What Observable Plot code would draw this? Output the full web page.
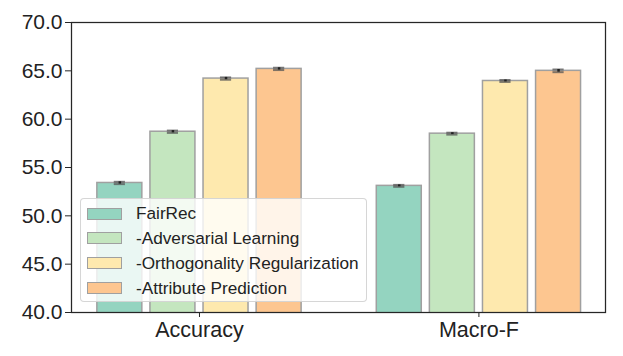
<!DOCTYPE html>
<html>
<head>
<meta charset="utf-8">
<script src="https://cdn.jsdelivr.net/npm/d3@7"></script>
<script src="https://cdn.jsdelivr.net/npm/@observablehq/plot@0.6"></script>
<style>
  html, body { margin: 0; padding: 0; background: #fff; }
  #wrap { position: relative; width: 623px; height: 356px; font-family: "Liberation Sans", Arial, sans-serif; }
  #legend {
    position: absolute; left: 80px; top: 198px; width: 287px; height: 104px;
    background: rgba(255,255,255,0.8); border: 1px solid rgba(204,204,204,0.8);
    border-radius: 4px; box-sizing: border-box;
  }
  .item { position: absolute; left: 6px; height: 24px; display: flex; align-items: center; }
  .sw { width: 35px; height: 12px; border: 1.5px solid #a0a0a0; box-sizing: border-box; }
  .lab { margin-left: 14px; font-size: 17.2px; color: #222; white-space: nowrap; }
</style>
</head>
<body>
<div id="wrap"></div>
<script>
const metrics = ["Accuracy", "Macro-F"];
const models = ["FairRec", "-Adversarial Learning", "-Orthogonality Regularization", "-Attribute Prediction"];
const accuracy = [53.4, 58.7, 64.2, 65.2];
const macroF = [53.1, 58.5, 63.95, 65.0];
const accuracyErr = [0.12, 0.12, 0.12, 0.12];
const macroFErr = [0.1, 0.1, 0.1, 0.14];
const yTicks = [40, 45, 50, 55, 60, 65, 70];
const colors = ["#94d4c0", "#c4e6bf", "#fee9ae", "#fdc690"];

const series = [accuracy, macroF];
const errs = [accuracyErr, macroFErr];
const step = 0.19, half = 0.0805;
const data = [];
metrics.forEach((m, i) => models.forEach((k, j) => {
  const c = i + (j - 1.5) * step;
  data.push({metric: m, model: k, c, value: series[i][j], err: errs[i][j], color: colors[j]});
}));

const chart = Plot.plot({
  width: 623, height: 356,
  marginLeft: 71, marginRight: 18, marginTop: 22, marginBottom: 44,
  style: {fontFamily: "'Liberation Sans', Arial, sans-serif", color: "#222", background: "#fff"},
  x: {domain: [-0.458, 1.453], axis: null},
  y: {domain: [40, 70], axis: null},
  marks: [
    Plot.rect(data, {x1: d => d.c - half, x2: d => d.c + half, y1: 0, y2: "value",
      fill: "color", stroke: "#a0a0a0", strokeWidth: 1.5, clip: true}),
    Plot.ruleY(data, {y: d => d.value - d.err, x1: d => d.c - 0.02, x2: d => d.c + 0.02, stroke: "#555", strokeOpacity: 0.75, strokeWidth: 2}),
    Plot.ruleY(data, {y: d => d.value + d.err, x1: d => d.c - 0.02, x2: d => d.c + 0.02, stroke: "#555", strokeOpacity: 0.75, strokeWidth: 2}),
    Plot.ruleX(data, {x: "c", y1: d => d.value - d.err, y2: d => d.value + d.err, stroke: "#222", strokeWidth: 2.5}),
    Plot.frame({stroke: "#262626", strokeWidth: 1.25}),
    Plot.axisY({ticks: yTicks, tickFormat: d => d.toFixed(1), tickSize: 6, tickPadding: 3, fontSize: 21, label: null, stroke: "#262626"}),
    Plot.axisX({ticks: [0, 1], tickFormat: i => metrics[i], tickSize: 5, tickPadding: 4, fontSize: 21.5, label: null, stroke: "#262626"})
  ]
});
const wrap = document.getElementById("wrap");
wrap.appendChild(chart);

const legend = document.createElement("div");
legend.id = "legend";
models.forEach((k, j) => {
  const it = document.createElement("div");
  it.className = "item";
  it.style.top = (2.5 + j * 24.9) + "px";
  const sw = document.createElement("div");
  sw.className = "sw"; sw.style.background = colors[j];
  const lab = document.createElement("span");
  lab.className = "lab"; lab.textContent = k;
  it.appendChild(sw); it.appendChild(lab);
  legend.appendChild(it);
});
wrap.appendChild(legend);
</script>
</body>
</html>
